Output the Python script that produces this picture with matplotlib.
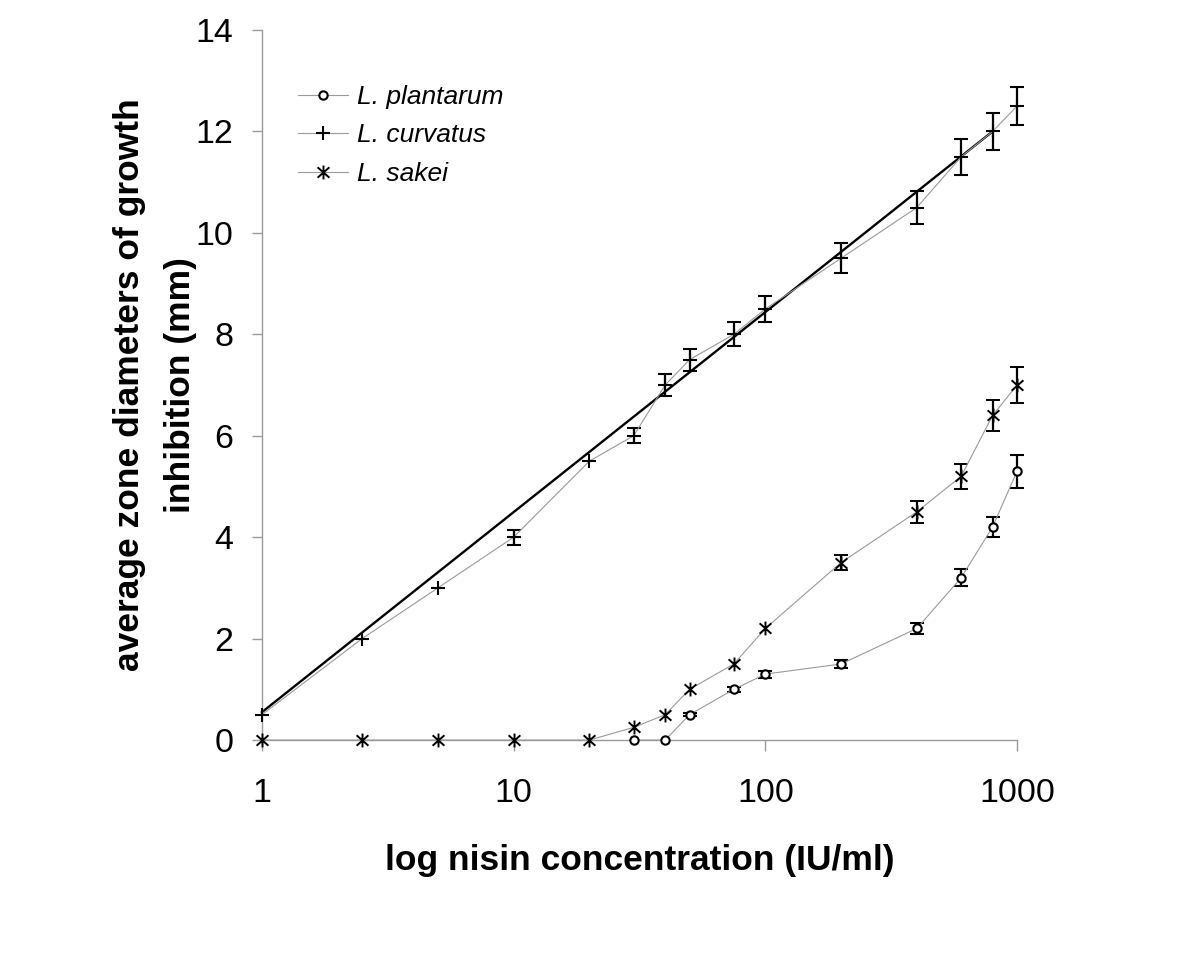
import matplotlib
matplotlib.use("Agg")
import matplotlib.pyplot as plt
from matplotlib.path import Path
from matplotlib.ticker import FixedLocator, NullLocator, FixedFormatter

plt.rcParams['font.family'] = ['Liberation Sans', 'DejaVu Sans']

nan = float('nan')

# ---- data ----
conc = [1, 2.5, 5, 10, 20, 30, 40, 50, 75, 100, 200, 400, 600, 800, 1000]

curvatus_y = [0.5, 2.0, 3.0, 4.0, 5.5, 6.0, 7.0, 7.5, 8.0, 8.5, 9.5, 10.5, 11.5, 12.0, 12.5]
curvatus_err = [nan, nan, nan, 0.15, nan, 0.15, 0.22, 0.22, 0.24, 0.26, 0.3, 0.32, 0.35, 0.36, 0.38]

sakei_y = [0, 0, 0, 0, 0, 0.25, 0.5, 1.0, 1.5, 2.2, 3.5, 4.5, 5.2, 6.4, 7.0]
sakei_err = [nan, nan, nan, nan, nan, nan, nan, nan, nan, nan, 0.15, 0.22, 0.25, 0.3, 0.36]

plantarum_x = [30, 40, 50, 75, 100, 200, 400, 600, 800, 1000]
plantarum_y = [0, 0, 0.5, 1.0, 1.3, 1.5, 2.2, 3.2, 4.2, 5.3]
plantarum_err = [nan, nan, 0.03, 0.05, 0.07, 0.07, 0.11, 0.17, 0.2, 0.33]

trend_x = [1, 800]
trend_y = [0.55, 12.0]

x_ticks = [1, 10, 100, 1000]
x_tick_labels = ['1', '10', '100', '1000']
y_ticks = [0, 2, 4, 6, 8, 10, 12, 14]

labels = ['L. plantarum', 'L. curvatus', 'L. sakei']

# ---- figure ----
fig = plt.figure(figsize=(12, 9.74), dpi=100)
ax = fig.add_axes([0.2183, 0.2402, 0.6292, 0.729])

ax.set_xscale('log')
ax.set_xlim(1, 1000)
ax.set_ylim(0, 14)

# asterisk-like marker: vertical bar plus X
sak_marker = Path([(0, -1), (0, 1), (-0.85, -0.75), (0.85, 0.75), (-0.85, 0.75), (0.85, -0.75)],
                  [Path.MOVETO, Path.LINETO, Path.MOVETO, Path.LINETO, Path.MOVETO, Path.LINETO])

gray = '#9a9a9a'
ax.plot(trend_x, trend_y, color='black', lw=1.7, zorder=2, clip_on=False)

eb_kw = dict(ecolor='black', elinewidth=1.6, capsize=5, capthick=1.6, color=gray, lw=0.8,
             markeredgecolor='black', clip_on=False, zorder=3)

c_pl = ax.errorbar(plantarum_x, plantarum_y, yerr=plantarum_err, marker='o', ms=6,
                   mfc='white', mew=1.5, **eb_kw)
c_cu = ax.errorbar(conc, curvatus_y, yerr=curvatus_err, marker='+', ms=10, mew=1.5, **eb_kw)
c_sa = ax.errorbar(conc, sakei_y, yerr=sakei_err, marker=sak_marker, ms=10, mew=1.4,
                   mfc='none', **eb_kw)
for c in (c_pl, c_cu, c_sa):
    for art in c.lines[1]:
        art.set_clip_on(False)
    for art in c.lines[2]:
        art.set_clip_on(False)

# ---- axes styling ----
for s in ['top', 'right']:
    ax.spines[s].set_visible(False)
for s in ['left', 'bottom']:
    ax.spines[s].set_color(gray)
    ax.spines[s].set_linewidth(1.0)

ax.xaxis.set_major_locator(FixedLocator(x_ticks))
ax.xaxis.set_major_formatter(FixedFormatter(x_tick_labels))
ax.xaxis.set_minor_locator(NullLocator())
ax.set_yticks(y_ticks)

ax.tick_params(axis='both', which='major', direction='out', color=gray, width=1.0,
               labelsize=24.5, labelcolor='black')
ax.tick_params(axis='y', length=7, pad=13.5)
ax.tick_params(axis='x', length=8, pad=19)

ax.set_xlabel('log nisin concentration (IU/ml)', fontsize=25.5, fontweight='bold')
ax.set_ylabel('average zone diameters of growth\ninhibition (mm)', fontsize=25.5,
              fontweight='bold', linespacing=1.7)
ax.xaxis.set_label_coords(0.5, -0.146)
ax.yaxis.set_label_coords(-0.0854, 0.5)

ax.legend(handles=[c_pl[0], c_cu[0], c_sa[0]], labels=labels, loc='upper left',
          bbox_to_anchor=(0.0477, 0.9226), frameon=False, borderpad=0, borderaxespad=0,
          handlelength=1.9, handletextpad=0.34, labelspacing=0.55,
          prop={'style': 'italic', 'size': 19})

fig.savefig('out.png', dpi=100)
